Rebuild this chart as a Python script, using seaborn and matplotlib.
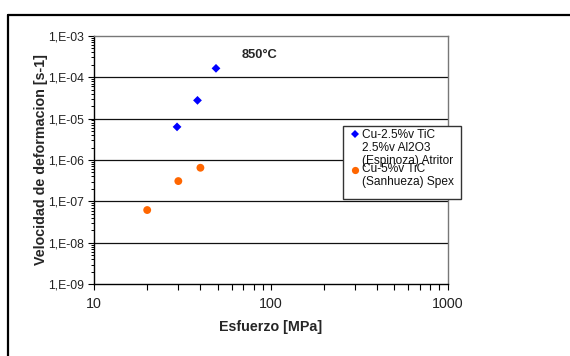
import numpy as np
import pandas as pd
import matplotlib
matplotlib.use("Agg")
import matplotlib.pyplot as plt
import matplotlib.ticker as mticker
from matplotlib.lines import Line2D
from matplotlib.patches import Rectangle
from matplotlib.legend_handler import HandlerLine2D
import seaborn as sns

# ---- data ----
series_labels = ["Cu-2.5%v TiC\n2.5%v Al2O3\n(Espinoza) Atritor",
                 "Cu-5%v TiC\n(Sanhueza) Spex"]
espinoza_stress = [29.5, 38.5, 49.0]
espinoza_rate = [6.3e-6, 2.75e-5, 1.63e-4]
sanhueza_stress = [20.0, 30.0, 40.0]
sanhueza_rate = [6.2e-8, 3.1e-7, 6.5e-7]
y_ticks = [1e-9, 1e-8, 1e-7, 1e-6, 1e-5, 1e-4, 1e-3]
x_ticks = [10, 100, 1000]
annotation = "850°C"
x_label = "Esfuerzo [MPa]"
y_label = "Velocidad de deformacion [s-1]"

df = pd.DataFrame({
    "stress": espinoza_stress + sanhueza_stress,
    "rate": espinoza_rate + sanhueza_rate,
    "serie": [series_labels[0]] * len(espinoza_stress) + [series_labels[1]] * len(sanhueza_stress),
})

sns.set_style("white")
plt.rcParams["font.family"] = ["Liberation Sans", "DejaVu Sans"]

W, H = 570, 356
fig = plt.figure(figsize=(W / 100, H / 100), dpi=100)
ax = fig.add_axes([94 / W, 1 - 284.3 / H, (447.5 - 94) / W, (284.3 - 35.7) / H])

colors = {series_labels[0]: "#0000FF", series_labels[1]: "#FF6600"}
markers = {series_labels[0]: "D", series_labels[1]: "o"}
sizes_map = {series_labels[0]: 20, series_labels[1]: 32}

for lab in series_labels:
    sub = df[df["serie"] == lab]
    sns.scatterplot(data=sub, x="stress", y="rate", color=colors[lab], marker=markers[lab],
                    s=sizes_map[lab], edgecolor="none", ax=ax, legend=False, zorder=3)

ax.set_xscale("log")
ax.set_yscale("log")
ax.set_xlim(10, 1000)
ax.set_ylim(1e-9, 1e-3)
ax.set_xticks(x_ticks)
ax.set_yticks(y_ticks)
ax.xaxis.set_major_formatter(mticker.FuncFormatter(lambda v, p: f"{int(round(v))}"))
ax.yaxis.set_major_formatter(mticker.FuncFormatter(lambda v, p: f"1,E{int(round(np.log10(v))):+03d}"))
ax.xaxis.set_minor_locator(mticker.LogLocator(base=10, subs=np.arange(2, 10)))
ax.yaxis.set_minor_locator(mticker.LogLocator(base=10, subs=np.arange(2, 10)))
ax.xaxis.set_minor_formatter(mticker.NullFormatter())
ax.yaxis.set_minor_formatter(mticker.NullFormatter())

ax.tick_params(axis="x", which="both", direction="out", length=4, width=0.8, color="black",
               labelsize=10.3, pad=5.5, bottom=True, labelcolor="#222222")
ax.tick_params(axis="y", which="major", direction="out", length=4, width=0.8, color="black",
               labelsize=8.8, pad=3.3, left=True, labelcolor="#222222")
ax.tick_params(axis="y", which="minor", direction="out", length=2, width=0.7, color="black", left=True)

ax.grid(False)
for yv in y_ticks[1:-1]:
    ax.axhline(yv, color="#111111", lw=0.9, zorder=1)

for side in ["left", "bottom"]:
    ax.spines[side].set_color("black")
    ax.spines[side].set_linewidth(1.0)
for side in ["top", "right"]:
    ax.spines[side].set_color("#777777")
    ax.spines[side].set_linewidth(1.0)

ax.set_xlabel(x_label, fontsize=10.3, fontweight="bold")
ax.set_ylabel(y_label, fontsize=10.3, fontweight="bold")
ax.xaxis.set_label_coords(0.5, -0.143)
ax.yaxis.set_label_coords(-0.130, 0.5)

ax.text(86.7, 3.4e-4, annotation, fontsize=9.3, fontweight="bold", ha="center", va="center")


class ShiftedHandler(HandlerLine2D):
    def __init__(self, dx_pts, dy_pts, **kw):
        super().__init__(**kw)
        self.dx_pts = dx_pts
        self.dy_pts = dy_pts

    def create_artists(self, legend, orig_handle, xdescent, ydescent, width, height, fontsize, trans):
        arts = super().create_artists(legend, orig_handle, xdescent, ydescent, width, height, fontsize, trans)
        for a in arts:
            a.set_xdata(np.asarray(a.get_xdata(), dtype=float) + self.dx_pts)
            a.set_ydata(np.asarray(a.get_ydata(), dtype=float) + self.dy_pts)
        return arts


leg_fs = 8.6
h1 = Line2D([], [], ls="", marker="D", color=colors[series_labels[0]], markersize=4.2, markeredgewidth=0)
h2 = Line2D([], [], ls="", marker="o", color=colors[series_labels[1]], markersize=5.2, markeredgewidth=0)

# legend box (frame) drawn as a patch
fig.add_artist(Rectangle((342.7 / W, 1 - 199 / H), (461 - 342.7) / W, (199 - 125.7) / H,
                         transform=fig.transFigure, facecolor="white", edgecolor="#333333",
                         lw=1.0, zorder=4))

leg = fig.legend([h1, h2], series_labels, loc="upper left",
                 bbox_to_anchor=(346 / W, 1 - 129 / H), borderaxespad=0,
                 fontsize=leg_fs, frameon=False, borderpad=0,
                 handlelength=1.0, handletextpad=0.33, labelspacing=-0.28,
                 handler_map={h1: ShiftedHandler(2.2, 10.0), h2: ShiftedHandler(2.2, 4.5)})
leg.set_zorder(5)
for t in leg.get_texts():
    t.set_linespacing(1.1)
    t.set_color("#111111")

# outer chart frame (left and top edges)
fig.add_artist(Line2D([8 / W, 8 / W], [0, 1 - 15 / H], transform=fig.transFigure,
                      color="black", lw=1.6))
fig.add_artist(Line2D([8 / W, 1], [1 - 15 / H, 1 - 15 / H], transform=fig.transFigure,
                      color="black", lw=1.6))

fig.savefig("out.png", dpi=100)
